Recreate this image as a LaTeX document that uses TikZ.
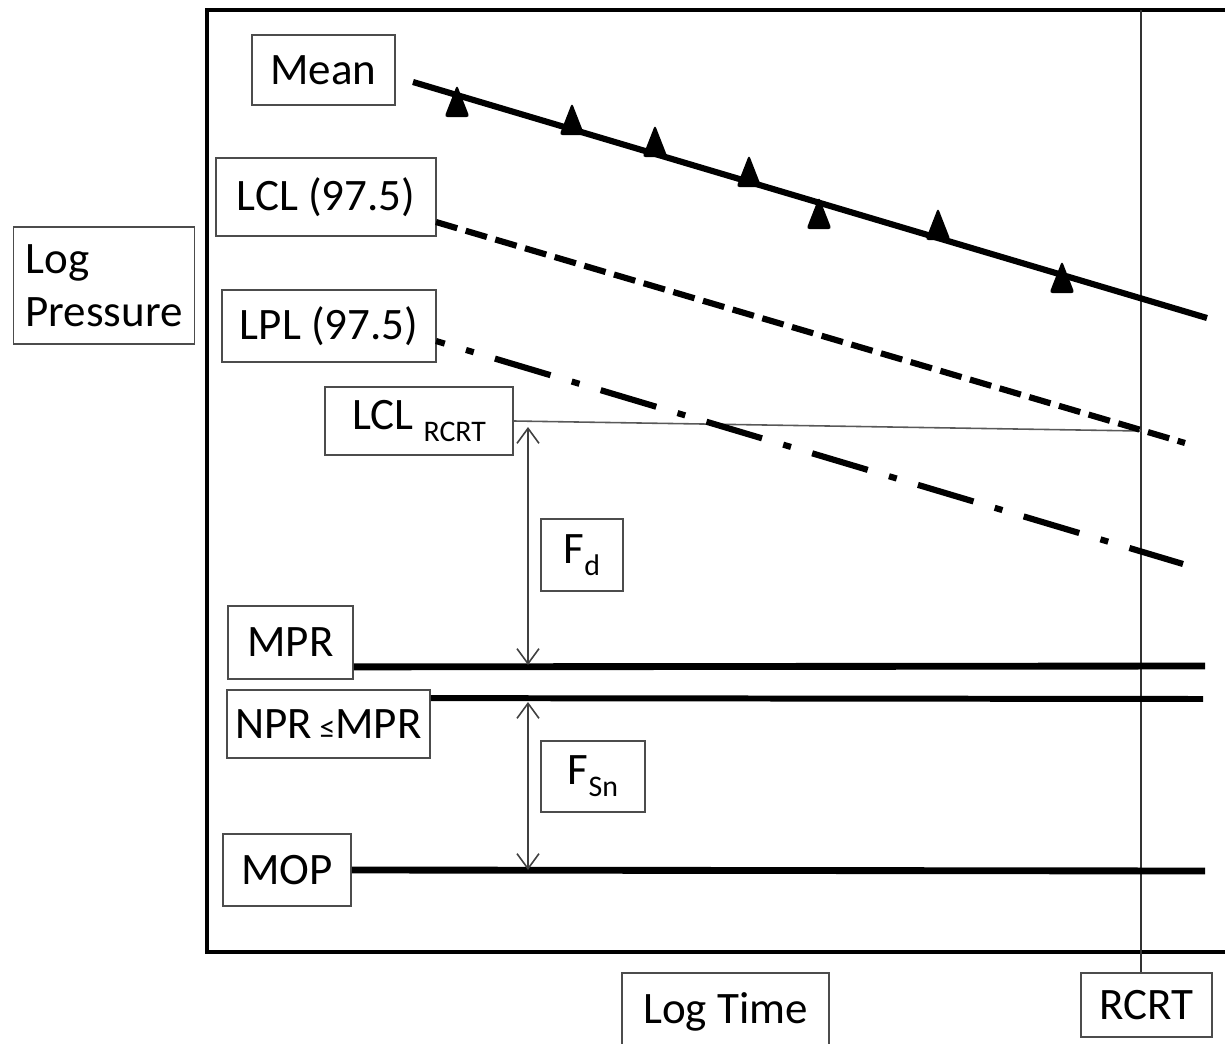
\documentclass[tikz,border=0pt]{standalone}
\usepackage{fontspec}
\setmainfont{Carlito}
\usetikzlibrary{arrows.meta}
\newcommand{\lowsub}[1]{\raisebox{-0.55ex}{\fontsize{8.5}{9}\selectfont #1}}
\begin{document}
\begin{tikzpicture}
          [x=0.1mm, y=-0.1mm,
          font=\fontsize{12.8}{15}\selectfont,
          box/.style={draw=black!70, line width=0.5pt, inner sep=0pt, fill=white},
          frame/.style={line width=1.3pt, line cap=rect, line join=miter},
          trend/.style={line width=1.75pt},
          limit/.style={line width=1.95pt},
          guide/.style={draw=black!65, line width=0.45pt},
          span/.style={<->, >={Straight Barb[length=1.5mm,width=2.2mm]}, draw=black!75, line width=0.45pt},
          point/.style={fill=black, rounded corners=0.8pt}]

            \useasboundingbox (0,0) rectangle (1225,1044);
            \draw [frame] (1230,10) -- (207,10) -- (207,952) -- (1230,952);

            \node (mean) [box, minimum width=14.3mm, minimum height=7mm] at (323.5,70) {Mean};
            \node (lcl) [box, minimum width=22mm, minimum height=7.8mm] at (326,197) {LCL (97.5)};
            \node (logp) [box, minimum width=18.1mm, minimum height=11.7mm, align=left] at (104,285.5) {Log\\Pressure};
            \node (lpl) [box, minimum width=21.4mm, minimum height=7.2mm] at (329,326) {LPL (97.5)};
            \node (lclr) [box, minimum width=18.8mm, minimum height=6.8mm] at (419,421) {LCL \lowsub{RCRT}};
            \node (fd) [box, minimum width=8.2mm, minimum height=7.2mm] at (582,555) {F\lowsub{d}};
            \node (mpr) [box, minimum width=12.5mm, minimum height=7.3mm] at (290.5,642.5) {MPR};
            \node (npr) [box, minimum width=20.3mm, minimum height=6.8mm] at (328.5,724) {NPR\,{\fontsize{9}{9}\selectfont ≤}MPR};
            \node (fsn) [box, minimum width=10.4mm, minimum height=7.1mm] at (593,776.5) {F\lowsub{Sn}};
            \node (mop) [box, minimum width=12.8mm, minimum height=7.2mm] at (287,870) {MOP};
            \node (logt) [box, minimum width=20.7mm, minimum height=7.7mm] at (725.5,1011.5) {Log Time};
            \node (rcrt) [box, minimum width=13.1mm, minimum height=6.4mm] at (1146.5,1005) {RCRT};

          \coordinate (meanA) at (413,82);
          \coordinate (meanB) at (1207,318);
          \coordinate (lclA) at (436,222);
          \coordinate (lclB) at (1185,443);
          \coordinate (lplA) at (436,341);
          \coordinate (lplB) at (1183,564);
          \coordinate (rcrtTop) at (1141,10);
          \coordinate (rcrtX) at (1141,431);
          \coordinate (fdTop) at (528,427);
          \coordinate (fdBot) at (528,665);
          \coordinate (fsnTop) at (528,702);
          \coordinate (fsnBot) at (528,870);
          \coordinate (mprB) at (1205,666);
          \coordinate (nprB) at (1203,699);
          \coordinate (mopB) at (1205,871);

            \draw [guide, draw=black!80] (rcrtTop) -- (rcrtTop |- rcrt.north);
            \draw [guide] (lclr.east) -- (rcrtX);

            \draw [trend] (meanA) -- (meanB);
            \foreach \px/\py in {457/117, 572/135, 655/157, 749/187, 819/229, 938/240, 1062/293}
              \fill [point] (\px,\py) ++(-12.5,0) -- ++(12.5,-32) -- ++(12.5,32) -- cycle;
            \draw [trend, dash pattern=on 6.3pt off 2.5pt] (lclA) -- (lclB);
            \draw [trend, dash pattern=on 16.5pt off 6.3pt on 2.3pt off 6.3pt, dash phase=13.9pt] (lplA) -- (lplB);

            \draw [limit] (mpr.south east) ++(0,-13) -- (mprB);
            \draw [limit, line width=1.7pt] (npr.north east) ++(0,9) -- (nprB);
            \draw [limit] (mop.east) -- (mopB);

            \draw [span] (fdTop) -- (fdBot);
            \draw [span] (fsnTop) -- (fsnBot);

        \end{tikzpicture}
\end{document}
